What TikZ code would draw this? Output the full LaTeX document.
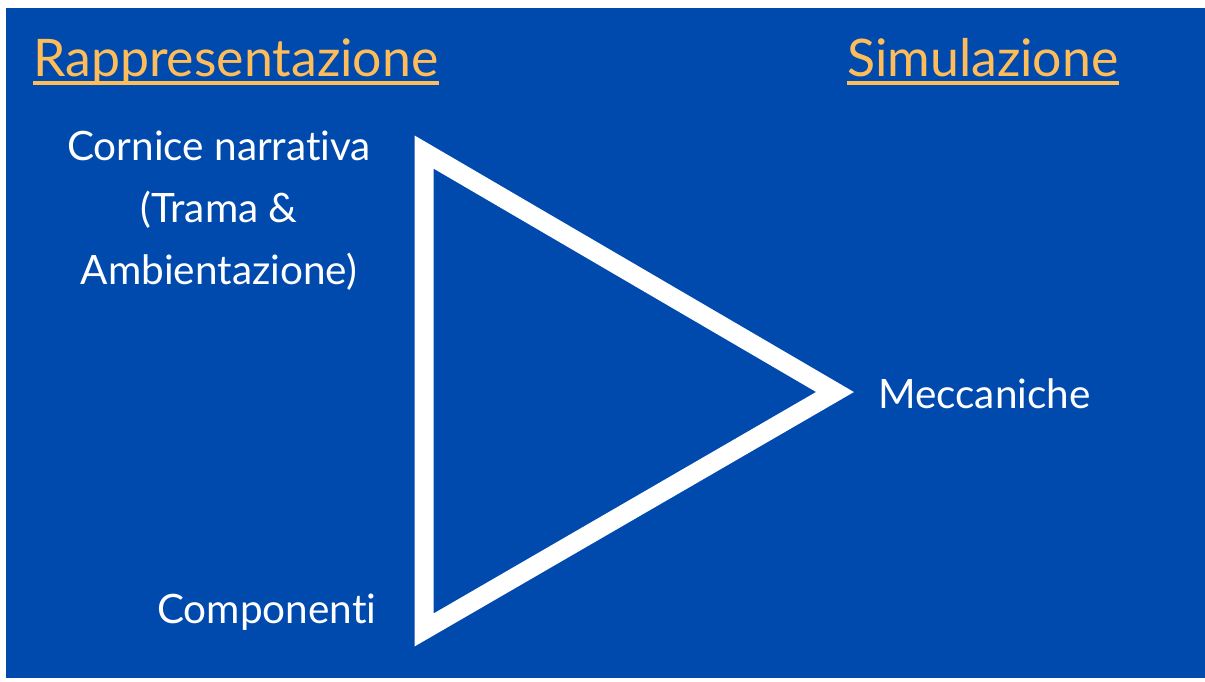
\documentclass[tikz,border=0pt]{standalone}
\usepackage{fontspec}
\setmainfont{Lato}[Ligatures=NoCommon]
\usetikzlibrary{calc}
\definecolor{bgblue}{HTML}{004AAD}
\definecolor{titlegold}{HTML}{FFBD59}

\begin{document}
\begin{tikzpicture}[
    x=1pt, y=-1pt,
    title/.style={
      text=titlegold, inner sep=0pt, anchor=base west,
      font=\fontsize{51.8}{58}\selectfont,
    },
    lbl/.style={
      text=white, inner sep=0pt, align=center,
      font=\fontsize{40.5}{62}\selectfont,
    },
    uline/.style={draw=titlegold, line width=4pt},
    tri/.style={draw=white, line width=19pt, line join=miter},
  ]
    % ===== Canvas =====
    \fill[white] (0,0) rectangle (1205,682);
    \fill[bgblue] (6,8) rectangle (1205,678);
    \useasboundingbox (0,0) rectangle (1205,682);

    % ===== Titles =====
    \node[title] (rep) at (33,77) {Rappresentazione};
    \node[title] (sim) at (847,77) {Simulazione};
    \draw[uline] ($(rep.base west)+(0,6)$) -- ($(rep.base east)+(0,6)$);
    \draw[uline] ($(sim.base west)+(0,6)$) -- ($(sim.base east)+(0,6)$);

    % ===== Triangle =====
    \coordinate (vtop) at (424,152);
    \coordinate (vtip) at (835,392);
    \coordinate (vbot) at (424,630);
    \draw[tri] (vtop) -- (vtip) -- (vbot) -- cycle;

    % ===== Labels =====
    \node[lbl, anchor=base] (cornice) at (219,284) {Cornice narrativa\\(Trama \&\\Ambientazione)};
    \node[lbl, anchor=base west] (mecc) at (878,408) {Meccaniche};
    \node[lbl, anchor=base west] (comp) at (157,623) {Componenti};

  \end{tikzpicture}
\end{document}
